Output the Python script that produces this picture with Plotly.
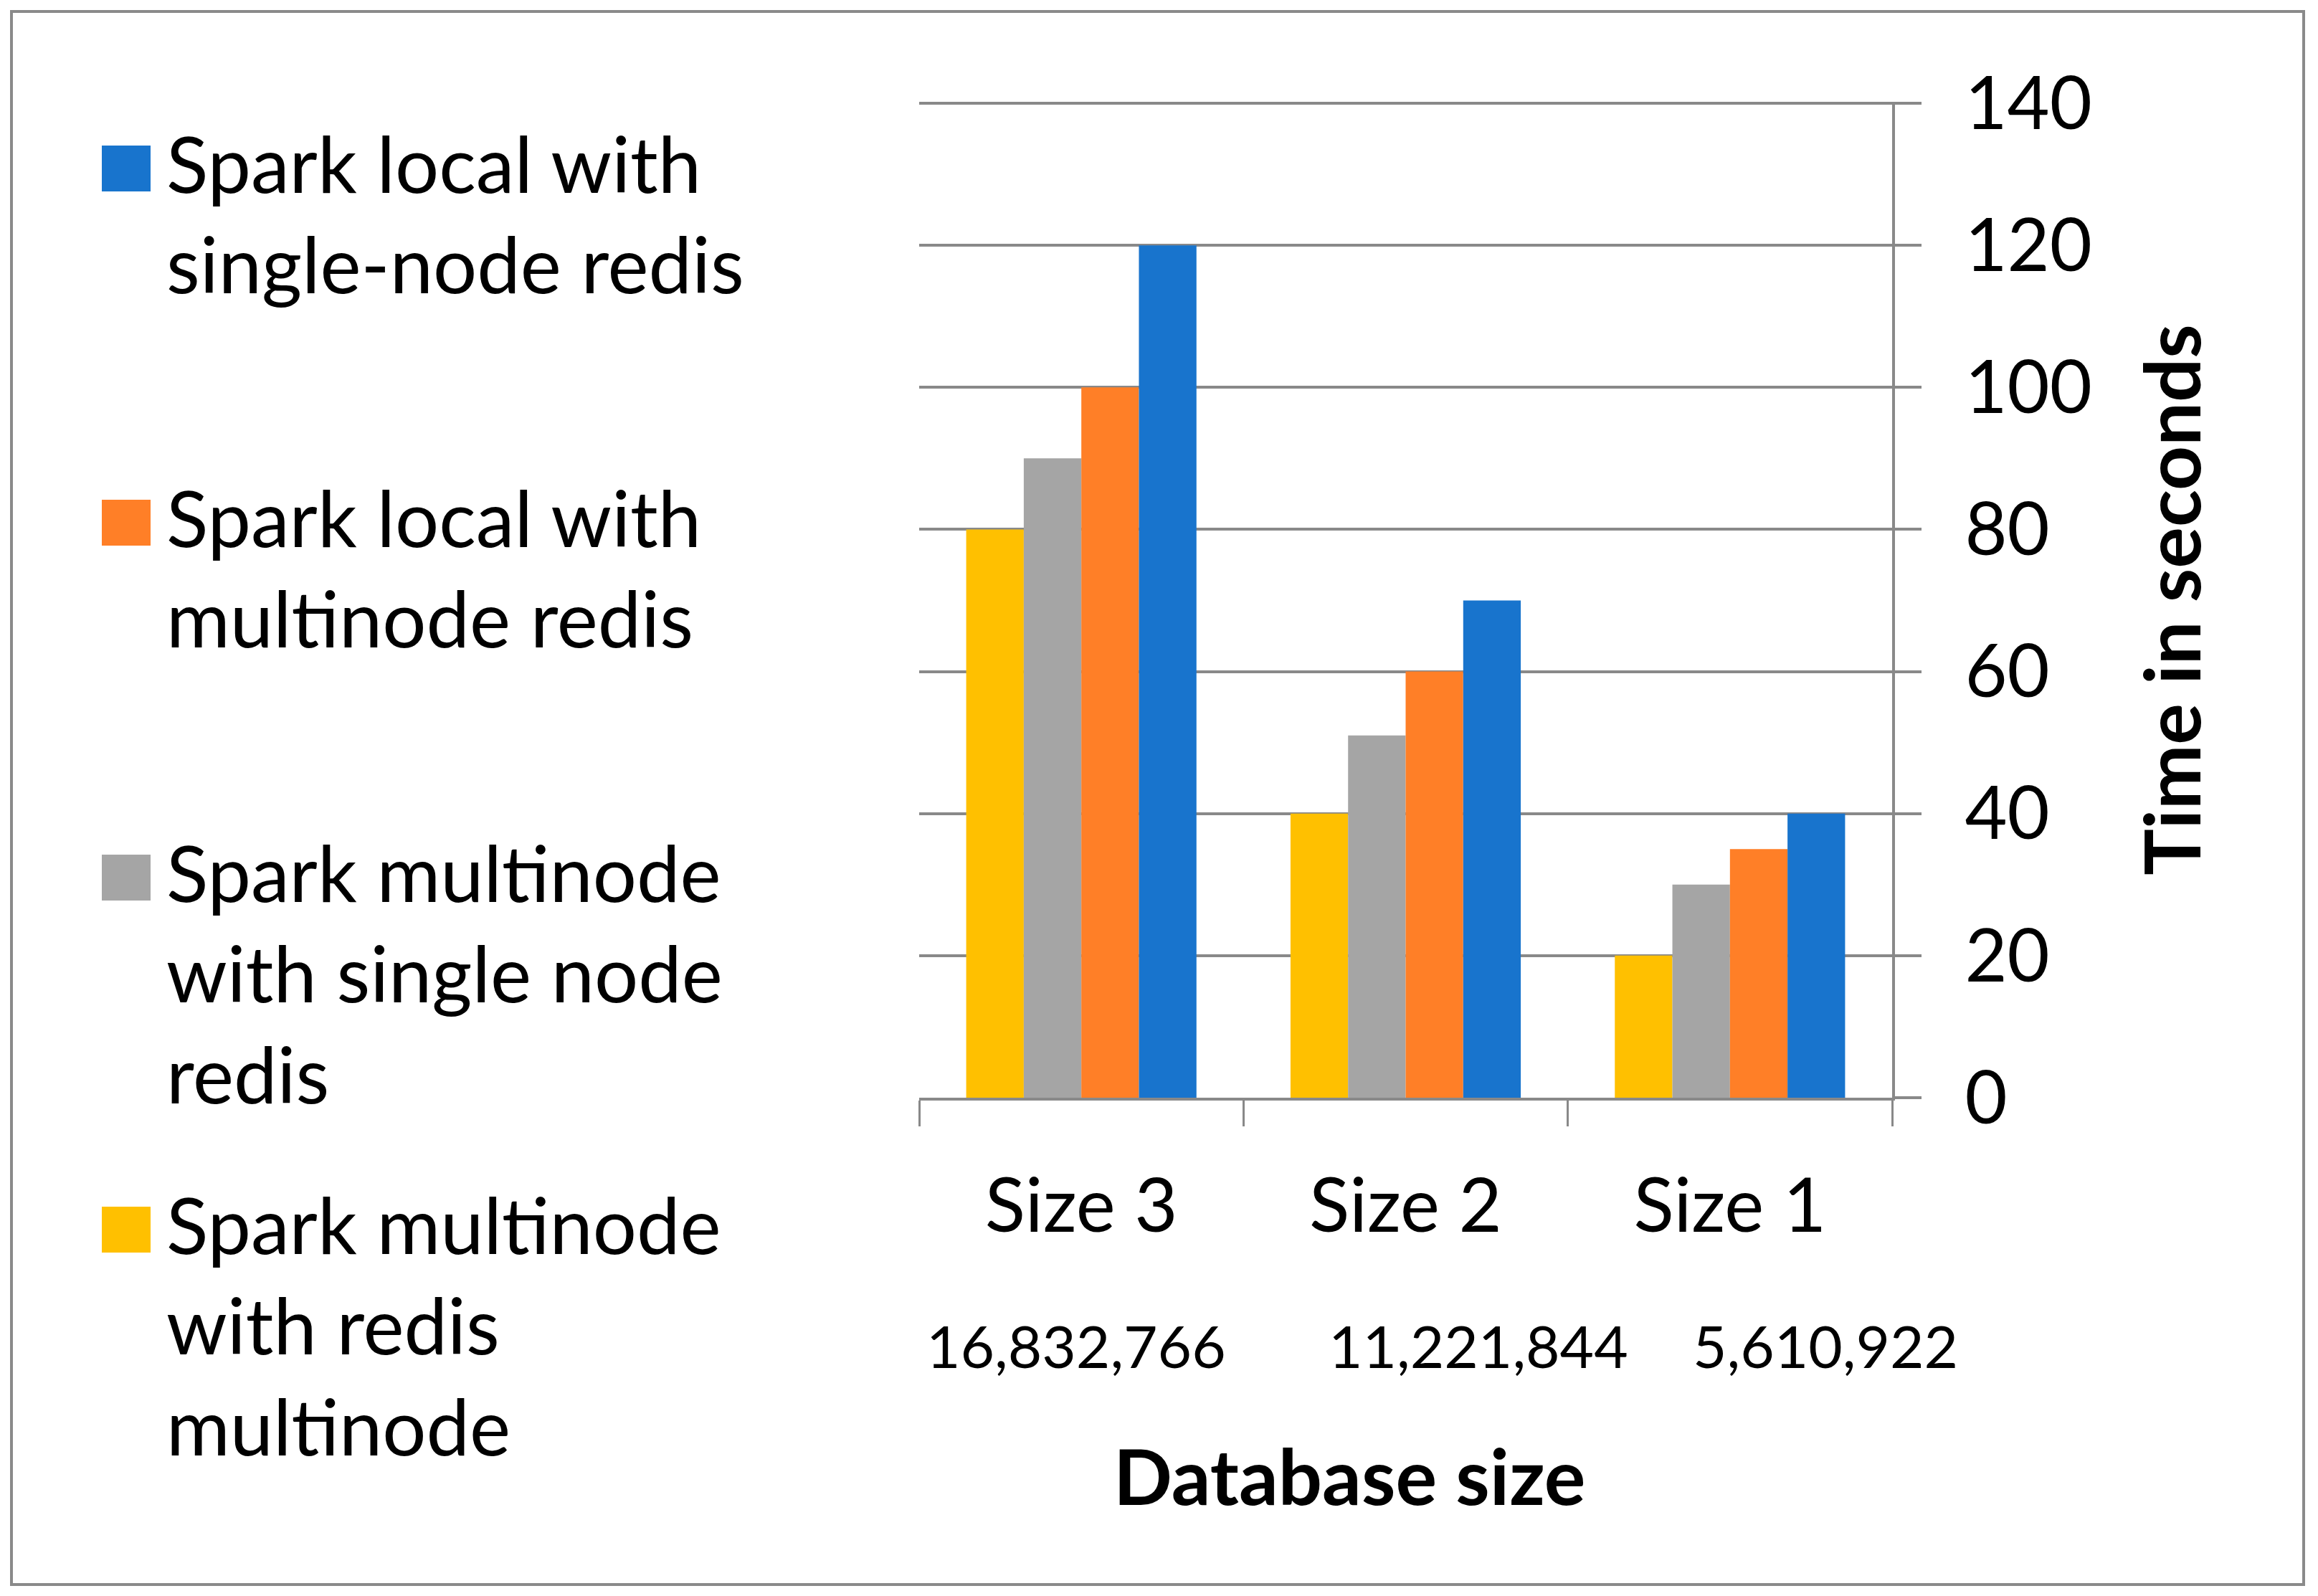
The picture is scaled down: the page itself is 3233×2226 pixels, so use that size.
import plotly.graph_objects as go

# ---------------- data ----------------
categories = ["Size 3", "Size 2", "Size 1"]
db_sizes = ["16,832,766", "11,221,844", "5,610,922"]

series_names = [
    "Spark multinode with redis multinode",
    "Spark multinode with single node redis",
    "Spark local with multinode redis",
    "Spark local with single-node redis",
]
legend_texts = [
    "Spark multinode<br>with redis<br>multinode",
    "Spark multinode<br>with single node<br>redis",
    "Spark local with<br>multinode redis",
    "Spark local with<br>single-node redis",
]
multi_multi = [80, 40, 20]
multi_single = [90, 51, 30]
local_multi = [100, 60, 35]
local_single = [120, 70, 40]
series_values = [multi_multi, multi_single, local_multi, local_single]
colors = ["#FFC000", "#A5A5A5", "#FF7F27", "#1874CD"]

y_ticks = [0, 20, 40, 60, 80, 100, 120, 140]

# ---------------- layout geometry (pixels) ----------------
W, H = 3233, 2226
L, R, T, B = 1282, 2639, 142, 1531
FONT = "Lato"
GRID = "#898989"


def px_x(px):
    return (px - L) / (R - L)


def px_y(py):
    return (B - py) / (B - T)


fig = go.Figure()
for name, vals, col in zip(series_names, series_values, colors):
    fig.add_trace(go.Bar(x=categories, y=vals, name=name, marker=dict(color=col, line=dict(width=0)),
                         showlegend=False))

shapes = [
    dict(type="rect", xref="paper", yref="paper", x0=px_x(16), x1=px_x(3213), y0=px_y(2210), y1=px_y(16),
         line=dict(color="#8a8a8a", width=4), fillcolor="rgba(0,0,0,0)", layer="below"),
]
annotations = []

# legend (top to bottom: reverse trace order)
sq_centers = [235, 729, 1224, 1715]
baselines = [266, 760, 1255, 1746]
for i, idx in enumerate([3, 2, 1, 0]):
    cy = sq_centers[i]
    shapes.append(dict(type="rect", xref="paper", yref="paper", x0=px_x(142), x1=px_x(210),
                       y0=px_y(cy + 32), y1=px_y(cy - 32), fillcolor=colors[idx], line=dict(width=0)))
    annotations.append(dict(text=legend_texts[idx], xref="paper", yref="paper", x=px_x(230),
                            y=px_y(baselines[i] - 106), xanchor="left", yanchor="top", align="left",
                            showarrow=False, font=dict(family=FONT, size=108, color="#000000")))

# database sizes under category labels
num_x = [1501, 2062, 2546]
for lab, nx in zip(db_sizes, num_x):
    annotations.append(dict(text=lab, xref="paper", yref="paper", x=px_x(nx), y=px_y(1876),
                            xanchor="center", yanchor="middle", showarrow=False,
                            font=dict(family=FONT, size=82, color="#000000")))

# x axis title
annotations.append(dict(text="<b>Database size</b>", xref="paper", yref="paper", x=px_x(1882), y=px_y(2057),
                        xanchor="center", yanchor="middle", showarrow=False,
                        font=dict(family=FONT, size=108, color="#000000")))

fig.update_layout(
    width=W, height=H,
    margin=dict(l=L, r=W - R, t=T, b=H - B, pad=0),
    paper_bgcolor="white", plot_bgcolor="white",
    barmode="group", bargap=0.29, bargroupgap=0,
    showlegend=False,
    shapes=shapes, annotations=annotations,
    xaxis=dict(
        type="category", showgrid=False, showline=True, linecolor=GRID, linewidth=4,
        ticks="outside", tickson="boundaries", ticklen=36, tickwidth=3, tickcolor=GRID,
        tickfont=dict(family=FONT, size=104, color="#000000"), ticklabelstandoff=58,
    ),
    yaxis=dict(
        side="right", range=[0, 140.2], tickvals=y_ticks, showgrid=True, gridcolor=GRID, gridwidth=4,
        showline=True, linecolor=GRID, linewidth=4, zeroline=False,
        ticks="outside", ticklen=37, tickwidth=4, tickcolor=GRID,
        tickfont=dict(family=FONT, size=102, color="#000000"), ticklabelstandoff=40,
        title=dict(text="<b>Time in seconds</b>", font=dict(family=FONT, size=108, color="#000000"),
                   standoff=78),
    ),
)

fig.write_html("out.html", config={"displayModeBar": False},
               post_script="document.body.style.margin='0px';")
